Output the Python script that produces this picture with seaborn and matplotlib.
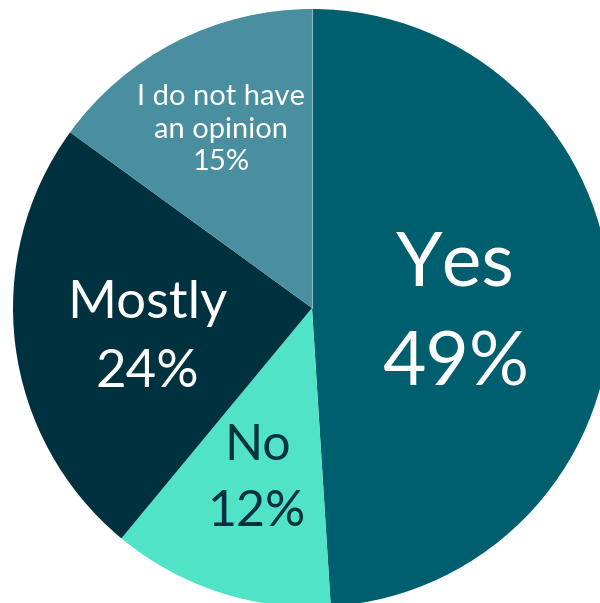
import numpy as np
import matplotlib
matplotlib.use("Agg")
import matplotlib.pyplot as plt
import seaborn as sns

categories = ["Yes", "No", "Mostly", "I do not have\nan opinion"]
shares = [49, 12, 24, 15]
slice_colors = ["#005F6E", "#50E3C8", "#00313F", "#4A8FA0"]
text_colors = ["white", "#00313F", "white", "white"]
label_sizes = [54, 36, 38, 21]
label_radius = [0.48, 0.59, 0.555, 0.67]
label_shift = [-0.035, -0.01, -0.03, 0.0]
line_spacing = [1.55, 1.54, 1.58, 1.32]

sns.set_theme(style="white")
plt.rcParams["font.family"] = ["Lato", "DejaVu Sans"]

fig = plt.figure(figsize=(6.0, 6.03), dpi=100)
R = 299
cx, cy = 312, 308
ax = fig.add_axes([(cx - R) / 600, 1 - (cy + R) / 603, 2 * R / 600, 2 * R / 603])
ax.set_axis_off()

wedges, _ = ax.pie(shares, colors=slice_colors, startangle=90,
                   counterclock=False, radius=1.0,
                   wedgeprops=dict(linewidth=0))
ax.set_xlim(-1, 1)
ax.set_ylim(-1, 1)
ax.set_aspect("equal")

# the thin light seam along the top boundary
ax.plot([0, 0], [0, 1], color="#8FB9C4", lw=0.8, zorder=3)

for w, cat, val, tc, fs, r, dy, ls in zip(wedges, categories, shares, text_colors,
                                          label_sizes, label_radius, label_shift,
                                          line_spacing):
    mid = np.deg2rad((w.theta1 + w.theta2) / 2)
    x, y = r * np.cos(mid), r * np.sin(mid) + dy
    ax.text(x, y, f"{cat}\n{val}%", ha="center", va="center", color=tc,
            fontsize=fs, linespacing=ls, zorder=4)

fig.savefig("out.png", dpi=100)
